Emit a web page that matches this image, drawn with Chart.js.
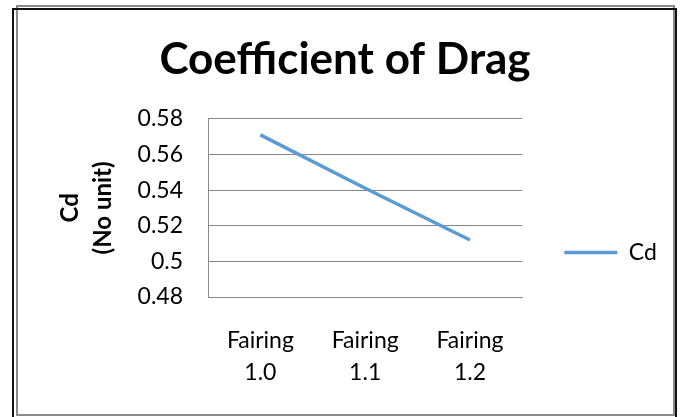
<!DOCTYPE html>
<html>
<head>
<meta charset="utf-8">
<script src="https://cdn.jsdelivr.net/npm/chart.js@4/dist/chart.umd.min.js"></script>
<style>
  html, body { margin: 0; padding: 0; background: #fff; }
  #wrap { position: relative; width: 684px; height: 417px; overflow: hidden; }
  #dragChart { position: absolute; left: 0; top: 0; }
  .frame { position: absolute; pointer-events: none; box-sizing: border-box; }
  #frameDark { left: 12px; top: 8px; width: 665px; height: 430px; border: 2px solid #111; }
  #frameGrey { left: 16px; top: 5px; width: 659px; height: 411px; border: 2px solid #8a8a8a; }
</style>
</head>
<body>
<div id="wrap">
  <canvas id="dragChart" width="684" height="417"></canvas>
  <div class="frame" id="frameGrey"></div>
  <div class="frame" id="frameDark"></div>
</div>
<script>
var categories = [['Fairing', '1.0'], ['Fairing', '1.1'], ['Fairing', '1.2']];
var cdValues = [0.571, 0.541, 0.512];
var seriesName = 'Cd';
var chartTitle = 'Coefficient of Drag';
var yTitle = ['Cd', '(No unit)'];
var yMin = 0.48, yMax = 0.58, yStep = 0.02;

Chart.defaults.font.family = 'Lato';
Chart.defaults.color = '#000';

var gridGrey = '#878787';

// excel puts the legend a bit lower than the middle
var legendDrop = {
  id: 'legendDrop',
  afterLayout: function (chart) {
    chart.legend.top += 44;
    chart.legend.bottom += 44;
  }
};

var canvas = document.getElementById('dragChart');

var chart = new Chart(canvas, {
  type: 'line',
  data: {
    labels: categories,
    datasets: [{
      label: seriesName,
      data: cdValues,
      borderColor: '#5b9bd5',
      backgroundColor: '#5b9bd5',
      borderWidth: 3.5,
      pointRadius: 0,
      tension: 0,
      fill: false
    }]
  },
  options: {
    responsive: false,
    animation: false,
    layout: { padding: { left: 31, top: 0, right: 25, bottom: 0 } },
    plugins: {
      title: {
        display: true,
        text: chartTitle,
        color: '#000',
        font: { size: 44, weight: 'bold' },
        padding: { top: 33, bottom: 33 }
      },
      legend: {
        position: 'right',
        labels: {
          usePointStyle: true,
          pointStyle: 'line',
          pointStyleWidth: 53,
          font: { size: 23 },
          color: '#000',
          padding: 10
        }
      },
      tooltip: { enabled: false }
    },
    scales: {
      x: {
        offset: true,
        grid: { display: false, drawTicks: false },
        border: { display: true, color: gridGrey, width: 1 },
        ticks: { font: { size: 23, lineHeight: 1.39 }, padding: 28, maxRotation: 0 },
        afterFit: function (s) { s.height = 120; }
      },
      y: {
        min: yMin,
        max: yMax,
        grid: { color: gridGrey, lineWidth: 1, drawTicks: false },
        border: { display: true, color: gridGrey, width: 1 },
        ticks: {
          stepSize: yStep,
          padding: 25,
          font: { size: 23 },
          callback: function (v) { return String(Number(v.toFixed(2))); }
        },
        title: {
          display: true,
          text: yTitle,
          font: { size: 24, weight: 'bold', lineHeight: 1.4 },
          padding: { top: 22, bottom: 0 }
        },
        afterFit: function (s) { s.width = 177; }
      },
      y2: {
        position: 'right',
        display: true,
        grid: { display: false, drawTicks: false },
        border: { display: false },
        ticks: { display: false },
        afterFit: function (s) { s.width = 32; }
      }
    }
  },
  plugins: [legendDrop]
});
</script>
</body>
</html>
